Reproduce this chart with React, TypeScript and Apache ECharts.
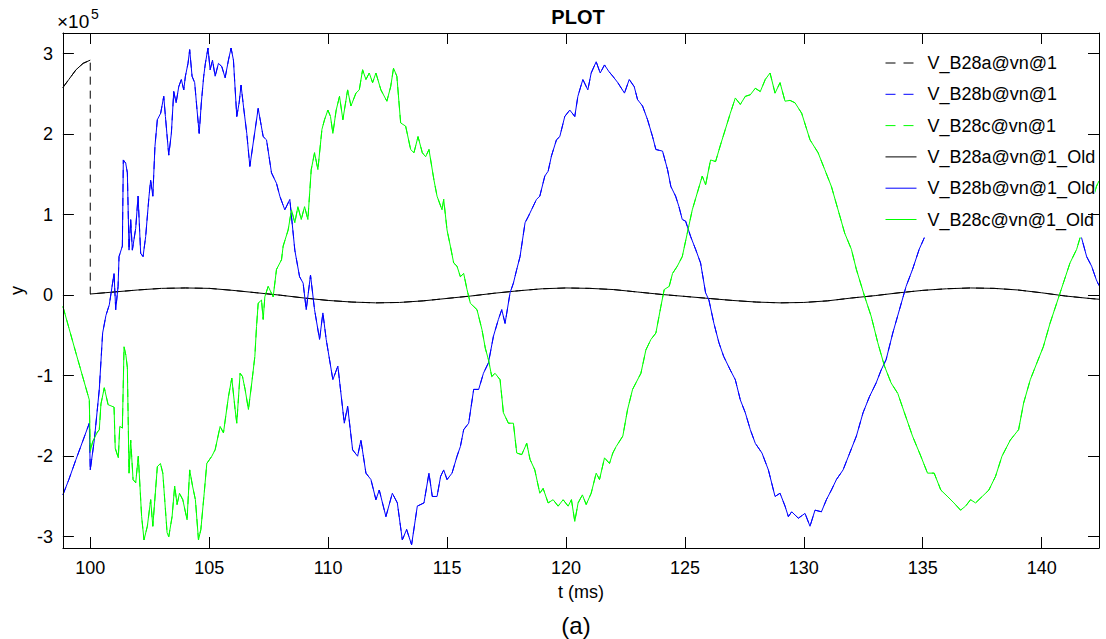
import React, { useEffect, useRef } from "react";
import * as echarts from "echarts";

// Values in units of 1e5 (axis multiplier shown as ×10^5)
const xTicks = [100, 105, 110, 115, 120, 125, 130, 135, 140];
const yTicks = [-3, -2, -1, 0, 1, 2, 3];
const xMin = 98.85;
const xMax = 142.41;
const yMin = -3.14;
const yMax = 3.257;

const legendNames = [
  "V_B28a@vn@1",
  "V_B28b@vn@1",
  "V_B28c@vn@1",
  "V_B28a@vn@1_Old",
  "V_B28b@vn@1_Old",
  "V_B28c@vn@1_Old",
];

// Phase a (black): before the switch
const tBlackPre = [98.85, 99.1, 99.4, 99.7, 100.0];
const vBlackPre = [2.58, 2.68, 2.8, 2.88, 2.92];
// Phase a (black): after the switch
const tBlackPost = [100.0, 101, 102, 103, 104, 105, 106, 107, 108, 109, 110, 111, 112, 113, 114, 115, 116, 117, 118, 119, 120, 121, 122, 123, 124, 125, 126, 127, 128, 129, 130, 131, 132, 133, 134, 135, 136, 137, 138, 139, 140, 141, 142, 142.41];
const vBlackPost = [0.015, 0.04, 0.065, 0.085, 0.09, 0.085, 0.06, 0.03, 0.0, -0.035, -0.065, -0.085, -0.095, -0.09, -0.07, -0.04, -0.01, 0.025, 0.055, 0.08, 0.09, 0.085, 0.07, 0.04, 0.01, -0.015, -0.04, -0.065, -0.085, -0.095, -0.09, -0.07, -0.035, -0.005, 0.03, 0.06, 0.08, 0.09, 0.085, 0.065, 0.03, -0.01, -0.04, -0.05];

// Phase b (blue)
const tBlue = [98.85, 99.1, 99.4, 99.7, 99.96, 100.0, 100.17, 100.38, 100.52, 100.66, 100.8, 101.0, 101.07, 101.17, 101.21, 101.35, 101.39, 101.49, 101.56, 101.63, 101.7, 101.77, 101.91, 102.01, 102.12, 102.22, 102.33, 102.47, 102.54, 102.63, 102.72, 102.82, 102.96, 103.09, 103.16, 103.3, 103.41, 103.51, 103.61, 103.72, 103.83, 103.93, 104.0, 104.11, 104.18, 104.28, 104.39, 104.49, 104.58, 104.67, 104.77, 104.84, 104.95, 105.04, 105.14, 105.25, 105.39, 105.53, 105.67, 105.81, 105.92, 106.02, 106.16, 106.26, 106.34, 106.44, 106.58, 106.71, 106.85, 107.06, 107.27, 107.41, 107.62, 107.83, 107.97, 108.18, 108.39, 108.6, 108.8, 108.95, 109.08, 109.26, 109.43, 109.64, 109.78, 109.92, 110.2, 110.41, 110.68, 110.82, 111.03, 111.24, 111.38, 111.59, 111.8, 112.01, 112.15, 112.43, 112.7, 112.91, 113.12, 113.3, 113.51, 113.75, 114.03, 114.24, 114.38, 114.58, 114.73, 114.86, 115.0, 115.21, 115.42, 115.56, 115.7, 115.91, 116.12, 116.33, 116.53, 116.74, 116.95, 117.16, 117.3, 117.44, 117.65, 117.79, 117.93, 118.07, 118.28, 118.42, 118.55, 118.76, 118.9, 119.11, 119.25, 119.39, 119.6, 119.74, 119.95, 120.16, 120.37, 120.5, 120.71, 120.92, 121.06, 121.27, 121.44, 121.62, 121.8, 121.97, 122.18, 122.46, 122.66, 122.87, 123.01, 123.22, 123.43, 123.64, 123.78, 124.06, 124.27, 124.41, 124.61, 124.75, 124.89, 125.03, 125.24, 125.45, 125.66, 125.87, 126.01, 126.22, 126.43, 126.63, 126.91, 127.12, 127.33, 127.54, 127.75, 127.96, 128.24, 128.51, 128.79, 129.0, 129.21, 129.35, 129.49, 129.77, 130.05, 130.26, 130.47, 130.74, 130.95, 131.16, 131.37, 131.65, 131.93, 132.21, 132.49, 132.76, 133.04, 133.25, 133.46, 133.74, 134.02, 134.3, 134.57, 134.85, 135.06, 135.5, 136.0, 136.5, 137.0, 137.5, 138.0, 138.5, 139.0, 139.5, 140.0, 140.5, 141.0, 141.4, 141.68, 141.89, 142.1, 142.3, 142.41];
const vBlue = [-2.48, -2.29, -2.04, -1.8, -1.59, -2.17, -1.8, -1.17, -0.47, -0.25, -0.12, 0.27, -0.18, 0.11, 0.48, 0.61, 1.68, 1.64, 1.52, 0.56, 0.94, 0.56, 0.83, 1.23, 0.52, 0.48, 0.73, 1.23, 1.43, 1.23, 1.85, 2.18, 2.26, 2.47, 2.22, 1.74, 2.01, 2.53, 2.39, 2.59, 2.68, 2.55, 2.72, 2.88, 3.05, 2.72, 2.64, 2.3, 2.01, 2.39, 2.72, 2.88, 3.07, 2.8, 2.92, 2.72, 2.88, 2.84, 2.7, 2.92, 3.07, 2.92, 2.22, 2.39, 2.61, 2.35, 2.01, 1.6, 1.89, 2.32, 1.97, 1.93, 1.52, 1.39, 1.23, 1.06, 1.19, 0.56, 0.23, 0.15, -0.18, 0.25, -0.18, -0.55, -0.22, -0.55, -1.05, -0.88, -1.59, -1.38, -1.92, -2.0, -1.8, -2.21, -2.29, -2.54, -2.42, -2.75, -2.46, -2.58, -3.04, -2.91, -3.1, -2.62, -2.58, -2.21, -2.5, -2.5, -2.25, -2.17, -2.29, -2.21, -2.0, -1.88, -1.67, -1.59, -1.17, -1.17, -0.97, -0.84, -0.51, -0.3, -0.18, -0.35, 0.03, 0.15, 0.32, 0.48, 0.9, 0.98, 1.06, 1.19, 1.23, 1.48, 1.54, 1.73, 1.93, 1.97, 2.22, 2.3, 2.22, 2.47, 2.68, 2.55, 2.76, 2.9, 2.76, 2.86, 2.78, 2.72, 2.64, 2.51, 2.68, 2.59, 2.43, 2.35, 2.18, 1.97, 1.81, 1.79, 1.56, 1.35, 1.23, 1.1, 0.94, 0.92, 0.73, 0.57, 0.4, 0.03, -0.06, -0.35, -0.59, -0.76, -0.93, -1.05, -1.3, -1.46, -1.67, -1.84, -1.96, -2.17, -2.5, -2.46, -2.62, -2.75, -2.69, -2.77, -2.71, -2.87, -2.67, -2.69, -2.54, -2.42, -2.29, -2.17, -1.96, -1.75, -1.46, -1.26, -1.09, -0.93, -0.8, -0.47, -0.18, 0.11, 0.32, 0.57, 0.71, 1.1, 1.5, 1.9, 2.25, 2.55, 2.72, 2.8, 2.74, 2.55, 2.25, 1.85, 1.4, 0.95, 0.71, 0.48, 0.36, 0.19, 0.12];

// Phase c (green)
const tGreen = [98.85, 99.4, 99.96, 100.0, 100.1, 100.3, 100.38, 100.45, 100.59, 100.75, 101.0, 101.05, 101.18, 101.24, 101.35, 101.42, 101.5, 101.56, 101.63, 101.7, 101.8, 101.91, 102.02, 102.16, 102.26, 102.4, 102.54, 102.63, 102.82, 102.95, 103.05, 103.23, 103.3, 103.44, 103.55, 103.65, 103.75, 103.89, 104.07, 104.18, 104.3, 104.42, 104.55, 104.65, 104.79, 104.9, 105.11, 105.25, 105.46, 105.6, 105.81, 105.95, 106.09, 106.16, 106.3, 106.4, 106.51, 106.65, 106.79, 106.92, 106.99, 107.06, 107.2, 107.27, 107.34, 107.48, 107.69, 107.83, 108.04, 108.11, 108.32, 108.46, 108.6, 108.73, 108.87, 109.01, 109.15, 109.29, 109.43, 109.57, 109.74, 109.85, 109.99, 110.1, 110.2, 110.34, 110.48, 110.62, 110.82, 110.96, 111.17, 111.31, 111.45, 111.59, 111.73, 111.87, 112.01, 112.22, 112.47, 112.63, 112.75, 112.89, 113.05, 113.26, 113.47, 113.61, 113.78, 113.96, 114.1, 114.24, 114.45, 114.58, 114.79, 114.86, 115.0, 115.14, 115.28, 115.42, 115.56, 115.7, 115.84, 115.98, 116.12, 116.26, 116.47, 116.61, 116.74, 116.88, 117.02, 117.23, 117.37, 117.58, 117.79, 117.93, 118.14, 118.35, 118.49, 118.69, 118.9, 119.04, 119.25, 119.46, 119.67, 119.88, 120.09, 120.23, 120.37, 120.51, 120.69, 120.85, 121.06, 121.27, 121.41, 121.62, 121.83, 121.97, 122.11, 122.39, 122.59, 122.8, 122.94, 123.15, 123.36, 123.57, 123.78, 123.99, 124.13, 124.34, 124.48, 124.68, 124.89, 125.1, 125.31, 125.52, 125.73, 125.87, 126.08, 126.29, 126.5, 126.7, 126.91, 127.12, 127.33, 127.54, 127.75, 127.96, 128.17, 128.38, 128.58, 128.79, 129.0, 129.21, 129.42, 129.63, 129.91, 130.26, 130.6, 130.88, 131.16, 131.44, 131.72, 132.0, 132.21, 132.55, 132.83, 133.11, 133.39, 133.67, 133.95, 134.23, 134.57, 134.92, 135.2, 135.48, 135.76, 136.04, 136.31, 136.59, 136.8, 137.01, 137.22, 137.5, 137.78, 138.06, 138.33, 138.68, 139.03, 139.24, 139.52, 139.8, 140.07, 140.35, 140.63, 140.91, 141.19, 141.47, 141.75, 142.03, 142.3, 142.41];
const vGreen = [-0.14, -0.72, -1.3, -1.94, -1.82, -1.7, -1.67, -1.35, -1.15, -1.36, -1.39, -1.9, -2.02, -1.63, -1.65, -0.64, -0.75, -0.9, -2.21, -1.8, -2.29, -2.33, -2.0, -2.75, -3.04, -2.87, -2.54, -2.87, -2.13, -2.09, -2.21, -2.95, -3.0, -2.75, -2.37, -2.6, -2.46, -2.54, -2.79, -2.17, -2.37, -2.54, -3.04, -2.91, -2.46, -2.09, -2.0, -1.92, -1.63, -1.71, -1.26, -1.03, -1.42, -1.59, -0.97, -1.01, -1.17, -1.42, -1.09, -0.76, -0.39, -0.1, -0.06, -0.3, -0.02, 0.11, -0.02, 0.32, 0.44, 0.61, 0.81, 1.06, 0.9, 1.1, 0.94, 1.1, 0.94, 1.56, 1.77, 1.56, 2.06, 2.18, 2.3, 2.22, 2.01, 2.3, 2.47, 2.18, 2.55, 2.35, 2.51, 2.55, 2.8, 2.68, 2.76, 2.64, 2.76, 2.55, 2.41, 2.59, 2.82, 2.72, 2.14, 2.1, 1.81, 1.77, 1.97, 1.77, 1.72, 1.81, 1.43, 1.23, 1.06, 1.19, 0.81, 0.61, 0.4, 0.36, 0.23, 0.27, 0.07, -0.1, -0.14, -0.18, -0.43, -0.66, -0.8, -1.01, -0.97, -1.05, -1.46, -1.59, -1.59, -1.96, -1.98, -1.84, -2.04, -2.17, -2.46, -2.4, -2.58, -2.54, -2.62, -2.54, -2.62, -2.54, -2.81, -2.58, -2.48, -2.6, -2.46, -2.21, -2.29, -2.02, -2.09, -1.96, -1.88, -1.75, -1.42, -1.17, -1.09, -0.97, -0.68, -0.55, -0.47, -0.14, 0.07, 0.11, 0.27, 0.36, 0.48, 0.77, 1.06, 1.27, 1.48, 1.37, 1.68, 1.66, 1.87, 2.06, 2.26, 2.45, 2.37, 2.47, 2.49, 2.57, 2.53, 2.68, 2.76, 2.51, 2.64, 2.41, 2.42, 2.39, 2.26, 1.93, 1.77, 1.56, 1.35, 1.06, 0.77, 0.57, 0.32, -0.01, -0.26, -0.59, -0.88, -1.09, -1.22, -1.46, -1.75, -2.0, -2.21, -2.21, -2.42, -2.5, -2.58, -2.67, -2.62, -2.54, -2.58, -2.5, -2.42, -2.25, -2.0, -1.8, -1.67, -1.34, -1.05, -0.84, -0.64, -0.35, -0.1, 0.15, 0.4, 0.57, 0.85, 1.06, 1.35, 1.42];

const FONT = "'Liberation Sans', Arial, Helvetica, sans-serif";

function zip(t: number[], v: number[]) {
  return t.map((x, i) => [x, v[i]]);
}

export default function App() {
  const ref = useRef<HTMLDivElement>(null);

  useEffect(() => {
    if (!ref.current) return;
    const chart = echarts.init(ref.current, null, { renderer: "svg" });

    const blackNew = zip(tBlackPre, vBlackPre).concat(zip(tBlackPost, vBlackPost));
    const blackOld: any[] = zip(tBlackPre, vBlackPre)
      .concat([[100.0, null as any]])
      .concat(zip(tBlackPost, vBlackPost));
    const blue = zip(tBlue, vBlue);
    const green = zip(tGreen, vGreen);

    const dash = [8, 6];
    const mk = (name: string, data: any[], color: string, dashed: boolean) => ({
      name,
      type: "line",
      data,
      symbol: "none",
      showSymbol: false,
      connectNulls: false,
      lineStyle: { color, width: 1, type: dashed ? dash : "solid" },
      itemStyle: { color },
      emphasis: { disabled: true },
      z: 2,
    });

    const tickCommon = {
      inside: true,
      length: 11,
      lineStyle: { color: "#000", width: 1 },
    };

    const legendData = legendNames.map((name, i) => ({
      name,
      lineStyle: { type: i < 3 ? [10, 8] : "solid", width: 1 },
    }));

    chart.setOption({
      animation: false,
      backgroundColor: "#fff",
      grid: { left: 57, top: 33, right: 7, bottom: 91, containLabel: false },
      xAxis: [
        {
          type: "value",
          min: xMin,
          max: xMax,
          position: "bottom",
          z: 10,
          name: "t (ms)",
          nameLocation: "middle",
          nameGap: 35,
          nameTextStyle: { fontFamily: FONT, fontSize: 18, color: "#000" },
          axisLine: { show: true, onZero: false, lineStyle: { color: "#000", width: 1 } },
          axisTick: { ...tickCommon, customValues: xTicks },
          axisLabel: {
            customValues: xTicks,
            fontFamily: FONT,
            fontSize: 18,
            color: "#000",
            margin: 11,
          },
          splitLine: { show: false },
        },
        {
          type: "value",
          min: xMin,
          max: xMax,
          position: "top",
          z: 10,
          axisLine: { show: true, onZero: false, lineStyle: { color: "#000", width: 1 } },
          axisTick: { ...tickCommon, customValues: xTicks },
          axisLabel: { show: false },
          splitLine: { show: false },
        },
      ],
      yAxis: [
        {
          type: "value",
          min: yMin,
          max: yMax,
          position: "left",
          z: 10,
          name: "y",
          nameLocation: "middle",
          nameGap: 32,
          nameTextStyle: { fontFamily: FONT, fontSize: 18, color: "#000" },
          axisLine: { show: true, onZero: false, lineStyle: { color: "#000", width: 1 } },
          axisTick: { ...tickCommon, customValues: yTicks },
          axisLabel: {
            customValues: yTicks,
            fontFamily: FONT,
            fontSize: 18,
            color: "#000",
            margin: 10,
          },
          splitLine: { show: false },
        },
        {
          type: "value",
          min: yMin,
          max: yMax,
          position: "right",
          z: 10,
          axisLine: { show: true, onZero: false, lineStyle: { color: "#000", width: 1 } },
          axisTick: { ...tickCommon, customValues: yTicks },
          axisLabel: { show: false },
          splitLine: { show: false },
        },
      ],
      legend: {
        orient: "vertical",
        left: 875,
        top: 44,
        padding: [10, 0, 9, 10],
        itemGap: 13.3,
        itemWidth: 31,
        itemHeight: 18,
        backgroundColor: "#fff",
        borderWidth: 0,
        z: 4,
        selectedMode: false,
        data: legendData,
        itemStyle: { opacity: 0, borderWidth: 0 },
        textStyle: {
          fontFamily: FONT,
          fontSize: 18,
          color: "#000",
          lineHeight: 18,
          padding: [0, 0, 0, 6],
        },
      },
      graphic: [
        {
          type: "text",
          x: 57,
          y: 12,
          style: {
            text: "×10",
            fontSize: 19,
            fontFamily: FONT,
            fill: "#000",
            textVerticalAlign: "top",
          },
        },
        {
          type: "text",
          x: 91,
          y: 7,
          style: {
            text: "5",
            fontSize: 14,
            fontFamily: FONT,
            fill: "#000",
            textVerticalAlign: "top",
          },
        },
        {
          type: "text",
          x: 578,
          y: 7,
          style: {
            text: "PLOT",
            fontSize: 20,
            fontWeight: "bold",
            fontFamily: FONT,
            fill: "#000",
            textAlign: "center",
            textVerticalAlign: "top",
          },
        },
        {
          type: "text",
          x: 576,
          y: 613,
          style: {
            text: "(a)",
            fontSize: 24,
            fontFamily: FONT,
            fill: "#000",
            textAlign: "center",
            textVerticalAlign: "top",
          },
        },
        {
          type: "rect",
          z: 100,
          shape: { x: 1100, y: 40, width: 6, height: 200 },
          style: { fill: "#fff" },
        },
      ],
      series: [
        mk(legendNames[0], blackNew, "#000000", true),
        mk(legendNames[1], blue, "#0000ff", true),
        mk(legendNames[2], green, "#00ff00", true),
        mk(legendNames[3], blackOld, "#000000", false),
        mk(legendNames[4], blue, "#0000ff", false),
        mk(legendNames[5], green, "#00ff00", false),
      ],
    });

    return () => chart.dispose();
  }, []);

  return (
    <div
      ref={ref}
      style={{ position: "absolute", left: 0, top: 0, width: 1106, height: 639 }}
    />
  );
}
